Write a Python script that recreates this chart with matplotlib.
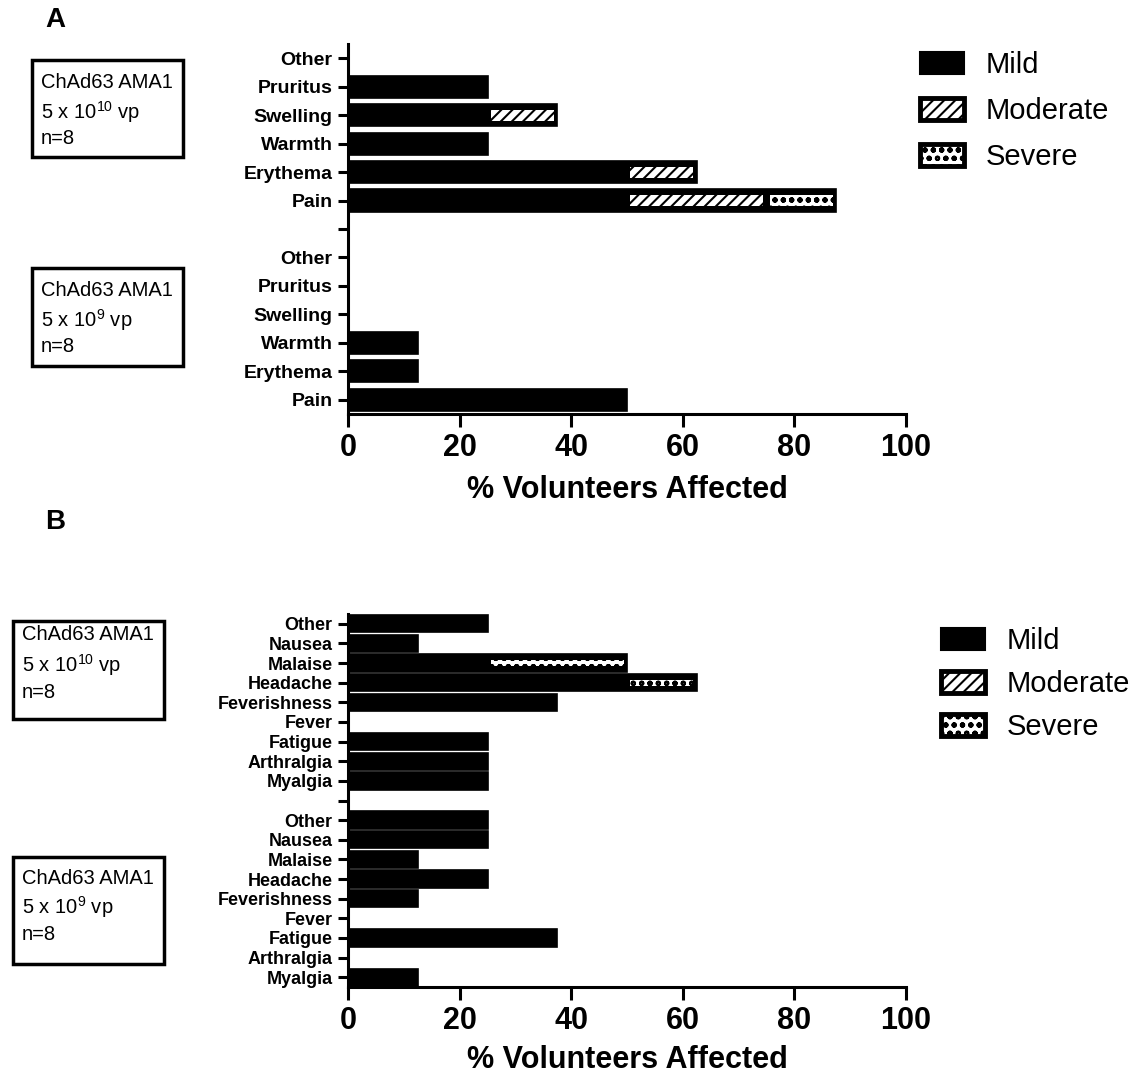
import numpy as np
import matplotlib.pyplot as plt
from matplotlib.patches import Patch, Rectangle

plt.rcParams['font.family'] = ['Liberation Sans', 'DejaVu Sans']
plt.rcParams['mathtext.default'] = 'regular'
plt.rcParams['hatch.linewidth'] = 1.5

#%% data (% volunteers, n=8)
local_labels = ['Pain', 'Erythema', 'Warmth', 'Swelling', 'Pruritus', 'Other']
local_low_mild = [50, 12.5, 12.5, 0, 0, 0]
local_low_mod = [0, 0, 0, 0, 0, 0]
local_low_sev = [0, 0, 0, 0, 0, 0]
local_high_mild = [50, 50, 25, 25, 25, 0]
local_high_mod = [25, 12.5, 0, 12.5, 0, 0]
local_high_sev = [12.5, 0, 0, 0, 0, 0]

sys_labels = ['Myalgia', 'Arthralgia', 'Fatigue', 'Fever', 'Feverishness',
              'Headache', 'Malaise', 'Nausea', 'Other']
sys_low_mild = [12.5, 0, 37.5, 0, 12.5, 25, 12.5, 25, 25]
sys_low_mod = [0, 0, 0, 0, 0, 0, 0, 0, 0]
sys_low_sev = [0, 0, 0, 0, 0, 0, 0, 0, 0]
sys_high_mild = [25, 25, 25, 0, 37.5, 50, 25, 12.5, 25]
sys_high_mod = [0, 0, 0, 0, 0, 0, 0, 0, 0]
sys_high_sev = [0, 0, 0, 0, 0, 12.5, 25, 0, 0]

severity = ['Mild', 'Moderate', 'Severe']
hatches = ['', '///', 'oo']

W, H = 1135, 1073
fig = plt.figure(figsize=(W/100, H/100), dpi=100)


def fx(px):
    return px / W


def fy(py):
    return 1 - py / H


def draw_seg(ax, ys, start, seg, hatch, bar_h, frac):
    m = seg > 0
    if not m.any():
        return
    inset = 0.6
    ax.barh(ys[m], seg[m] - 2*inset, left=start[m] + inset, height=bar_h*frac,
            color='white', edgecolor='black', hatch=hatch, linewidth=0, zorder=3)


def draw_panel(ax, labels, groups, bar_h, frac, fs, lpad):
    n = len(labels)
    positions = [np.arange(n), np.arange(n) + n + 1]
    for ys, (mild, mod, sev) in zip(positions, groups):
        mild = np.array(mild, float)
        mod = np.array(mod, float)
        sev = np.array(sev, float)
        total = mild + mod + sev
        ax.barh(ys, total, height=bar_h, color='black', edgecolor='black',
                linewidth=1.2, zorder=2)
        draw_seg(ax, ys, mild, mod, hatches[1], bar_h, frac)
        draw_seg(ax, ys, mild + mod, sev, hatches[2], bar_h, frac)
    ticks = list(range(2*n + 1))
    ax.set_yticks(ticks)
    ax.set_yticklabels(labels + [''] + labels, fontsize=fs, fontweight='bold')
    ax.set_ylim(-0.5, 2*n + 0.5)
    ax.set_xlim(0, 100)
    ax.set_xticks([0, 20, 40, 60, 80, 100])
    ax.set_xticklabels(['0', '20', '40', '60', '80', '100'], fontsize=22, fontweight='bold')
    ax.set_xlabel('% Volunteers Affected', fontsize=22, fontweight='bold', labelpad=lpad)
    for s in ['top', 'right']:
        ax.spines[s].set_visible(False)
    for s in ['left', 'bottom']:
        ax.spines[s].set_linewidth(2.2)
    ax.tick_params(axis='y', length=7, width=2.2, pad=4)
    ax.tick_params(axis='x', length=9, width=2.2, pad=5)


def legend(ax, x, y, spacing):
    handles = [Patch(facecolor='black', edgecolor='black', linewidth=1.5),
               Patch(facecolor='white', edgecolor='black', hatch=hatches[1], linewidth=3.5),
               Patch(facecolor='white', edgecolor='black', hatch=hatches[2], linewidth=3.5)]
    ax.legend(handles, severity, loc='upper left', bbox_to_anchor=(fx(x), fy(y)),
              bbox_transform=fig.transFigure, frameon=False, fontsize=21,
              handlelength=1.5, handleheight=0.75, handletextpad=0.75,
              labelspacing=spacing, borderpad=0, borderaxespad=0)


def dose_box(x0, y0, x1, y1, tx, lines, exp):
    fig.add_artist(Rectangle((fx(x0), fy(y1)), fx(x1) - fx(x0), fy(y0) - fy(y1),
                             transform=fig.transFigure, fill=False,
                             edgecolor='black', linewidth=2.5))
    texts = ['ChAd63 AMA1', '5 x 10$^{%s}$ vp' % exp, 'n=8']
    for ly, t in zip(lines, texts):
        fig.text(fx(tx), fy(ly), t, fontsize=14.5, va='center', ha='left')


#%% panel A - local
axA = fig.add_axes([fx(348), fy(414), fx(906) - fx(348), fy(44) - fy(414)])
draw_panel(axA, local_labels,
           [(local_low_mild, local_low_mod, local_low_sev),
            (local_high_mild, local_high_mod, local_high_sev)],
           bar_h=0.78, frac=0.5, fs=14, lpad=8)
legend(axA, 920, 51, 0.62)

#%% panel B - systemic
axB = fig.add_axes([fx(348), fy(987), fx(906) - fx(348), fy(614) - fy(987)])
draw_panel(axB, sys_labels,
           [(sys_low_mild, sys_low_mod, sys_low_sev),
            (sys_high_mild, sys_high_mod, sys_high_sev)],
           bar_h=0.88, frac=0.35, fs=13, lpad=6)
legend(axB, 941, 627, 0.52)

fig.text(fx(55), fy(20), 'A', fontsize=20, fontweight='bold', ha='center', va='center')
fig.text(fx(55), fy(522), 'B', fontsize=20, fontweight='bold', ha='center', va='center')

dose_box(32, 60, 183, 157, 41, [83, 112, 139], '10')
dose_box(32, 268, 183, 366, 41, [291, 320, 346], '9')
dose_box(13, 621, 164, 719, 22, [635, 665, 692], '10')
dose_box(13, 857, 164, 964, 22, [878, 907, 935], '9')

fig.savefig('out.png', dpi=100)
